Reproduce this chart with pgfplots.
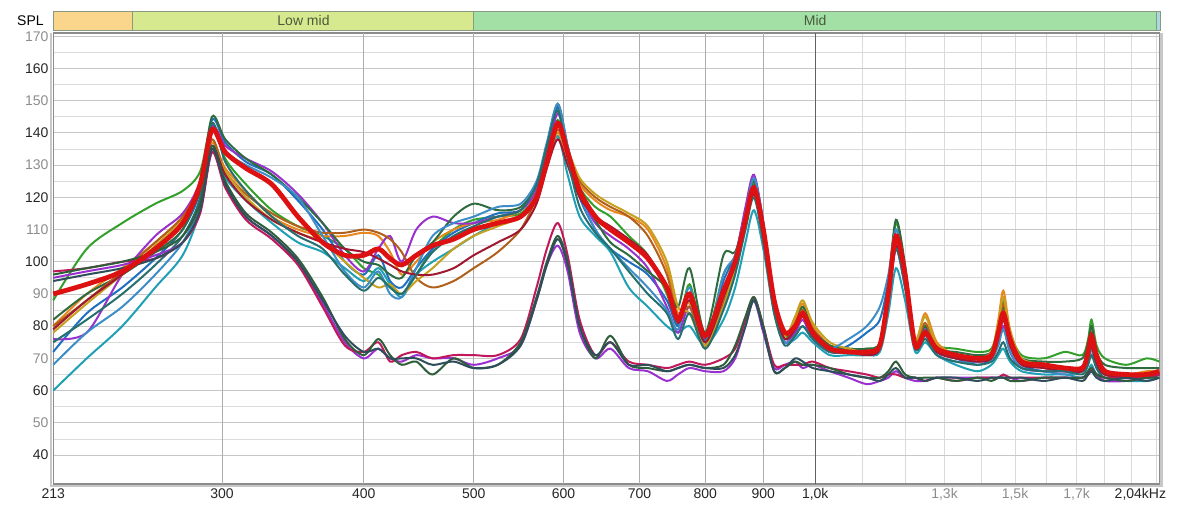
\documentclass[border=0pt]{standalone}
\usepackage{fontspec}
\setmainfont{Liberation Sans}
\usepackage{pgfplots}
\usepackage{pgfplotstable}
\pgfplotsset{compat=1.18}

\definecolor{cR}{HTML}{DD1111}
\definecolor{cA1}{HTML}{33A02C}
\definecolor{cA2}{HTML}{1F6FC0}
\definecolor{cA3}{HTML}{20A0B4}
\definecolor{cA4}{HTML}{E8871E}
\definecolor{cA5}{HTML}{9932CC}
\definecolor{cA6}{HTML}{2E6B3F}
\definecolor{cA7}{HTML}{B0601A}
\definecolor{cA8}{HTML}{C8A020}
\definecolor{cA9}{HTML}{3C8DC8}
\definecolor{cA10}{HTML}{A01830}
\definecolor{cA11}{HTML}{25706E}
\definecolor{cB1}{HTML}{9B30D0}
\definecolor{cB2}{HTML}{C0185A}
\definecolor{cB3}{HTML}{2F5F3A}
\definecolor{cB4}{HTML}{2E4F5A}
\definecolor{tickgray}{HTML}{8C8C8C}
\definecolor{bandbass}{HTML}{F9D68C}
\definecolor{bandlow}{HTML}{D6E98F}
\definecolor{bandmid}{HTML}{A2E0A6}
\definecolor{bandhigh}{HTML}{A8D8E2}
\definecolor{bandedge}{HTML}{8A9A80}
\definecolor{bandtext}{HTML}{4A5A3A}
\newcommand{\g}[1]{\textcolor{tickgray}{#1}}

% SPL curves, one column per measurement
\pgfplotstableread{
f R A1 A2 A3 A4 A5 A6 A7 A8 A9 A10 A11 B1 B2 B3 B4
213 90 88 72 60 80 76 82 80 78 68 79 75 95 97 96 94
228 93 104 84 70 90 78 90 88 87 78 88 82 97 98 98 96
245 97 112 92 80 98 96 96 97 96 86 96 90 99 100 100 98
262 104 118 101 92 106 108 103 106 105 96 104 99 102 101 103 101
277 112 122 110 102 114 115 110 114 113 106 112 108 106 106 108 106
287 124 128 122 116 124 125 124 124 123 118 122 120 116 115 118 116
294 141 143 144 134 137 142 145 138 136 140 136 143 135 134 136 135
302 134 132 137 126 129 136 138 128 128 134 127 131 124 123 125 124
315 129 124 131 119 122 132 132 121 120 130 119 122 114 113 115 114
332 124 116 127 112 114 128 127 115 113 126 113 114 108 107 109 108
350 114 111 119 106 110 121 120 111 109 120 109 108 100 99 101 100
368 106 108 110 103 108 112 112 109 106 108 106 104 87 86 89 88
385 102 104 100 98 108 102 104 109 100 97 104 96 75 74 76 77
400 102 98 96 94 109 97 100 110 95 92 103 91 70 72 71 72
412 104 96 102 98 108 104 99 109 92 97 101 95 73 75 76 73
422 101 92 94 93 103 108 96 107 93 90 99 92 70 69 71 70
432 99 90 92 89 96 100 95 103 90 89 97 90 69 71 68 70
445 102 96 98 96 100 110 102 95 94 98 96 96 71 72 69 70
460 105 104 104 100 106 114 106 92 98 108 96 103 70 70 65 68
480 107 110 109 104 110 112 114 94 104 112 98 108 70 71 70 69
500 110 113 112 108 112 112 118 98 108 114 102 111 68 71 67 67
525 112 114 115 112 113 114 116 103 111 117 106 114 70 71 68 68
550 114 115 116 114 116 116 117 110 114 118 110 116 74 76 75 74
568 120 121 123 120 122 122 124 120 121 125 118 124 88 92 89 88
580 131 132 135 130 131 133 136 131 131 137 129 136 99 104 100 99
593 143 144 148 139 140 146 149 141 142 149 138 147 105 112 108 107
605 134 133 135 127 132 135 136 133 135 136 130 132 97 102 100 99
620 122 123 120 114 124 121 122 125 126 121 120 117 78 82 80 80
640 114 117 110 108 119 112 113 120 121 110 114 109 70 71 70 71
660 110 114 104 103 116 108 106 117 118 104 111 104 73 75 77 75
685 106 108 100 92 114 104 102 114 115 98 107 97 67 69 68 68
712 101 102 96 86 110 98 97 108 111 92 102 90 66 68 67 68
740 92 90 88 80 98 86 92 96 100 85 92 84 63 67 66 66
757 82 80 80 78 84 78 86 82 86 79 81 76 65 68 67 67
775 90 93 88 80 87 86 98 86 84 92 88 84 67 69 68 68
800 77 76 76 74 73 75 78 74 74 75 75 73 66 68 67 67
830 91 96 94 82 88 90 102 87 86 96 89 85 66 70 68 67
850 100 101 102 92 98 101 103 97 98 102 99 96 70 73 74 71
868 113 112 116 106 112 117 114 111 112 115 112 110 80 82 83 80
883 123 124 126 116 122 127 125 121 122 126 121 120 88 89 89 88
900 110 108 112 104 110 112 111 108 110 112 108 106 78 80 80 79
920 88 86 87 84 88 86 87 87 88 86 86 84 67 68 66 66
940 78 76 76 75 77 75 77 76 77 75 76 74 68 68 67 67
960 80 82 79 76 82 78 80 80 83 77 79 77 69 68 69 70
975 84 86 84 78 87 82 86 85 88 80 83 80 67 68 68 69
995 78 79 77 75 80 76 79 79 81 76 77 76 68 69 68 67
1030 73 74 72 71 74 72 74 73 75 73 72 72 66 67 67 66
1070 72 73 74 71 73 72 73 72 73 76 72 72 64 66 65 65
1110 72 73 78 71 72 72 73 72 72 80 71 72 62 65 64 64
1140 74 75 82 72 74 73 75 73 74 86 73 74 63 64 64 63
1160 90 92 94 84 90 88 93 88 90 96 88 89 64 65 66 65
1178 108 112 110 98 108 104 113 105 106 110 105 104 66 65 69 67
1200 96 98 96 88 97 92 99 94 96 97 94 92 64 64 65 64
1225 74 75 74 72 76 74 75 75 76 74 74 73 63 64 64 64
1250 78 80 79 75 84 79 80 81 83 77 78 76 63 63 64 63
1280 73 74 72 71 75 72 73 73 74 71 72 71 64 64 64 64
1330 71 73 70 68 71 70 72 70 71 69 70 69 64 63 63 64
1390 70 72 68 66 70 69 71 70 70 69 69 68 64 64 64 63
1430 71 73 70 68 72 70 72 71 72 70 70 69 64 64 63 64
1450 78 80 76 71 82 75 79 79 81 74 77 72 64 64 64 64
1465 84 88 82 73 91 80 86 87 89 79 83 75 64 65 64 64
1485 76 78 74 69 79 72 76 76 78 72 74 70 64 64 63 64
1520 69 71 68 66 70 67 70 69 70 67 68 67 63 64 63 64
1590 68 70 66 65 68 66 69 67 68 66 67 66 64 64 64 63
1660 67 72 66 65 67 66 69 66 67 65 66 66 64 64 64 64
1720 67 71 66 64 67 66 70 66 67 66 66 65 64 64 64 63
1740 72 76 70 66 71 70 75 70 71 69 70 68 65 65 66 65
1752 77 82 75 68 75 74 80 74 76 73 74 71 66 67 67 66
1770 71 74 69 65 70 68 72 68 70 67 68 67 65 65 65 64
1800 66 70 65 64 66 65 68 65 66 64 65 64 63 64 64 63
1880 65 68 64 63 65 64 67 64 65 64 64 64 63 64 63 64
1960 65 70 64 63 66 64 67 64 65 64 64 64 64 64 64 63
2010 66 69 65 64 66 65 67 65 66 64 65 65 65 65 64 64
}\spl

\newcommand{\curve}[2]{\addplot[smooth, tension=0.5, line width=1.5pt, color=#2] table[x=f, y=#1] {\spl};}

\begin{document}
\begin{tikzpicture}
\path[use as bounding box] (0,0) rectangle (900pt,-384.75pt);
\begin{axis}[
  at={(39.9pt,-363pt)}, anchor=south west,
  scale only axis, width=829.5pt, height=338.25pt,
  xmode=log,
  xmin=213, xmax=2010, ymin=31, ymax=171,
  axis line style={draw=black!45, line width=1.1pt},
  xtick={300,400,500,600,700,800,900,1000},
  xticklabels={300,400,500,600,700,800,900,{1,0k}},
  minor xtick={1100,1200,1300,1400,1500,1600,1700,1800,1900,2000},
  extra x ticks={213,1300,1500,1700,1935},
  extra x tick labels={213,\g{1,3k},\g{1,5k},\g{1,7k},{2,04kHz}},
  extra x tick style={grid=none},
  ytick={40,50,60,70,80,90,100,110,120,130,140,150,160,170},
  yticklabels={40,\g{50},60,\g{70},80,\g{90},100,\g{110},120,\g{130},140,\g{150},160,\g{170}},
  minor y tick num=1,
  xmajorgrids=false, xminorgrids=true,
  ymajorgrids=true, yminorgrids=true,
  major grid style={draw=black!22, line width=0.6pt},
  minor grid style={draw=black!14, line width=0.6pt},
  tick style={draw=none},
  tick label style={font=\fontsize{10.5}{12}\selectfont, text=black!85},
  clip=false,
]
% frame shadow
\draw[black!22, line width=2pt] ([xshift=-1.6pt]rel axis cs:0,1) -- ([xshift=-1.6pt,yshift=-1.6pt]rel axis cs:0,0)
  -- ([xshift=1.6pt,yshift=-1.6pt]rel axis cs:1,0) -- ([xshift=1.6pt]rel axis cs:1,1);
% vertical grid lines
\pgfplotsinvokeforeach{300,400,500,600,700,800,900}{
  \draw[black!32, line width=0.6pt] (axis cs:#1,31) -- (axis cs:#1,171);
}
\draw[black!62, line width=0.7pt] (axis cs:1000,31) -- (axis cs:1000,171);

% frequency band strip
\fill[bandbass] (axis cs:213,171.7) rectangle (axis cs:250,177.8);
\fill[bandlow] (axis cs:250,171.7) rectangle (axis cs:500,177.8);
\fill[bandmid] (axis cs:500,171.7) rectangle (axis cs:2000,177.8);
\fill[bandhigh] (axis cs:2000,171.7) rectangle (axis cs:2015,177.8);
\draw[bandedge, line width=0.7pt] (axis cs:213,171.7) rectangle (axis cs:2015,177.8);
\draw[bandedge, line width=0.7pt] (axis cs:250,171.7) -- (axis cs:250,177.8);
\draw[bandedge, line width=0.7pt] (axis cs:500,171.7) -- (axis cs:500,177.8);
\draw[bandedge, line width=0.7pt] (axis cs:2000,171.7) -- (axis cs:2000,177.8);
\node[font=\fontsize{10.5}{12}\selectfont, text=bandtext] at (axis cs:354,174.75) {Low mid};
\node[font=\fontsize{10.5}{12}\selectfont, text=bandtext] at (axis cs:1000,174.75) {Mid};
\node[font=\fontsize{10.5}{12}\selectfont, anchor=east, inner sep=0pt, xshift=-7pt] at (axis cs:213,174.75) {SPL};

\curve{A1}{cA1}
\curve{A2}{cA2}
\curve{A3}{cA3}
\curve{A4}{cA4}
\curve{A5}{cA5}
\curve{A6}{cA6}
\curve{A7}{cA7}
\curve{A8}{cA8}
\curve{A9}{cA9}
\curve{A10}{cA10}
\curve{A11}{cA11}
\curve{B1}{cB1}
\curve{B2}{cB2}
\curve{B3}{cB3}
\curve{B4}{cB4}
\addplot[smooth, tension=0.5, line width=3.6pt, color=cR] table[x=f, y=R] {\spl};
\end{axis}
\end{tikzpicture}
\end{document}
